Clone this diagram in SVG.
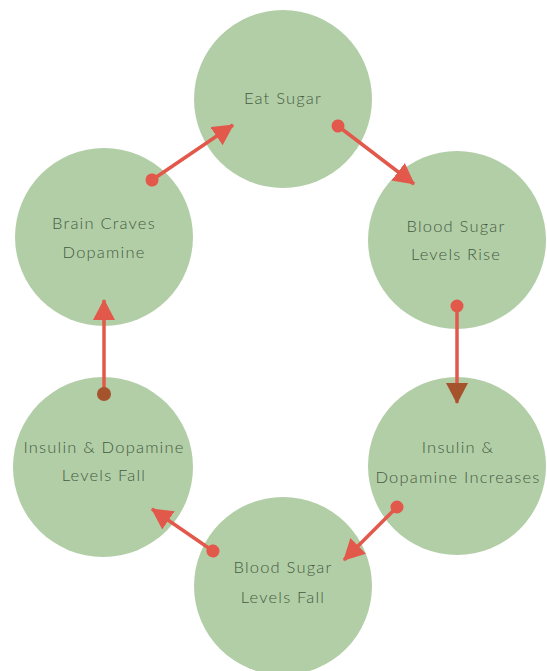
<svg xmlns="http://www.w3.org/2000/svg" width="547" height="671" viewBox="0 0 547 671">
<style>
.node circle{fill:#b2cea6}
.node text{font-family:Lato,"Open Sans","Liberation Sans",sans-serif;font-weight:300;font-size:16.5px;fill:#465b43;text-anchor:middle;letter-spacing:1.2px}
.conn line{stroke:#e2584a;stroke-width:3.5;fill:none}
</style>
<defs>
<marker id="arrow" markerUnits="userSpaceOnUse" markerWidth="24" markerHeight="24" refX="20" refY="11" orient="auto">
<path d="M0,0 L21,11 L0,22 z" fill="#e2584a"/>
</marker>
<marker id="arrowBrown" markerUnits="userSpaceOnUse" markerWidth="24" markerHeight="24" refX="20" refY="11" orient="auto">
<path d="M0,0 L21,11 L0,22 z" fill="#a4532c"/>
</marker>
<marker id="dot" markerUnits="userSpaceOnUse" markerWidth="16" markerHeight="16" refX="8" refY="8" orient="auto">
<circle cx="8" cy="8" r="6.5" fill="#e2584a"/>
</marker>
<marker id="dotBrown" markerUnits="userSpaceOnUse" markerWidth="16" markerHeight="16" refX="8" refY="8" orient="auto">
<circle cx="8" cy="8" r="7" fill="#a4532c"/>
</marker>
</defs>
<rect width="547" height="671" fill="#ffffff"/>
<g id="eat-sugar" class="node">
<circle cx="283" cy="99" r="89"/>
<text x="283" y="104">Eat Sugar</text>
</g>
<g id="blood-sugar-rise" class="node">
<circle cx="457" cy="240" r="89"/>
<text x="456" y="232">Blood Sugar</text>
<text x="456" y="260">Levels Rise</text>
</g>
<g id="insulin-increases" class="node">
<circle cx="457" cy="466" r="89"/>
<text x="458" y="453">Insulin &amp;</text>
<text x="458" y="483">Dopamine Increases</text>
</g>
<g id="blood-sugar-fall" class="node">
<circle cx="283" cy="586" r="89"/>
<text x="283" y="573">Blood Sugar</text>
<text x="283" y="603">Levels Fall</text>
</g>
<g id="insulin-fall" class="node">
<circle cx="103" cy="467" r="90"/>
<text x="104" y="453">Insulin &amp; Dopamine</text>
<text x="104" y="481">Levels Fall</text>
</g>
<g id="brain-craves" class="node">
<circle cx="104" cy="237" r="89"/>
<text x="104" y="229">Brain Craves</text>
<text x="104" y="258">Dopamine</text>
</g>
<g id="connectors" class="conn">
<line x1="152" y1="180" x2="233" y2="125" marker-start="url(#dot)" marker-end="url(#arrow)"/>
<line x1="338" y1="126" x2="414" y2="184" marker-start="url(#dot)" marker-end="url(#arrow)"/>
<line x1="457" y1="306" x2="457" y2="403" marker-start="url(#dot)" marker-end="url(#arrowBrown)"/>
<line x1="397" y1="507" x2="344" y2="560" marker-start="url(#dot)" marker-end="url(#arrow)"/>
<line x1="213" y1="551" x2="152" y2="509" marker-start="url(#dot)" marker-end="url(#arrow)"/>
<line x1="104" y1="394" x2="104" y2="300" marker-start="url(#dotBrown)" marker-end="url(#arrow)"/>
</g>
</svg>
